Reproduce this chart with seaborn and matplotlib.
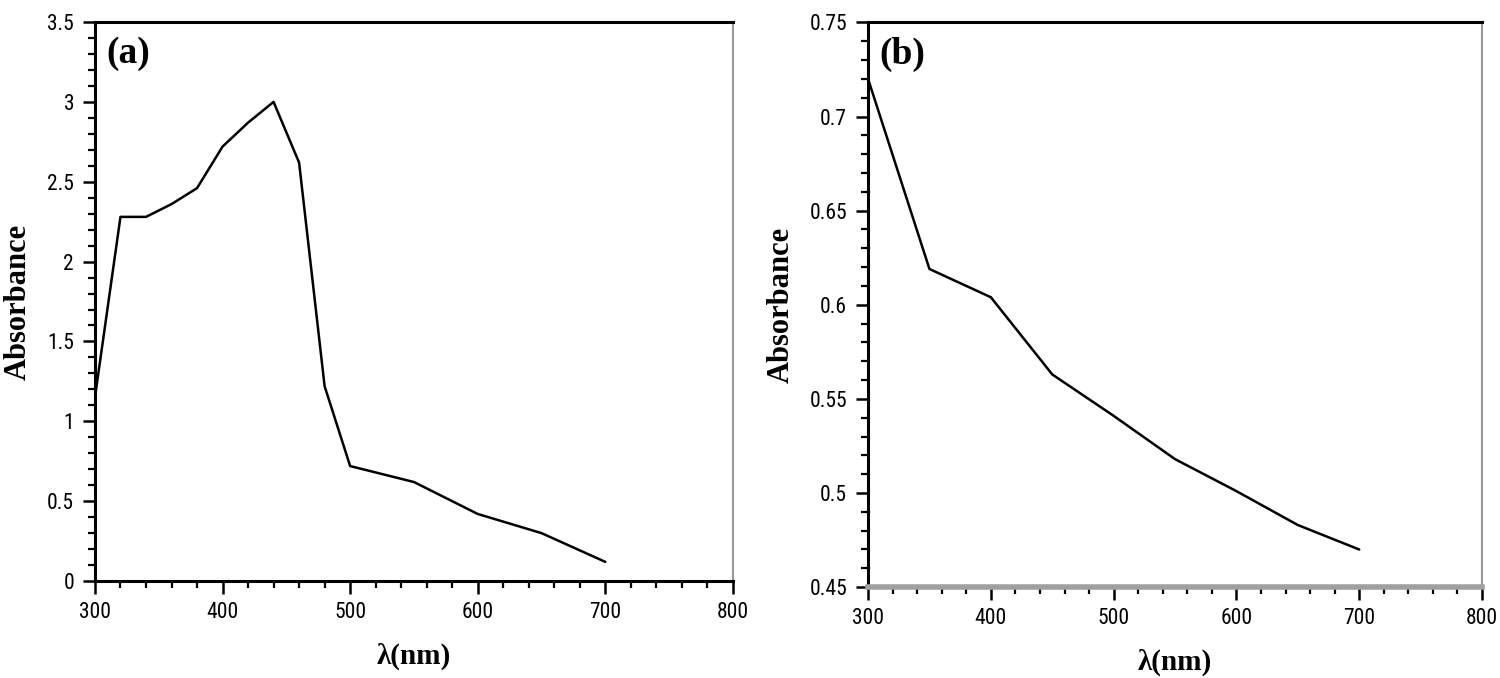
import numpy as np
import pandas as pd
import matplotlib
matplotlib.use('Agg')
import matplotlib.pyplot as plt
from matplotlib.ticker import MultipleLocator
import seaborn as sns

# Data
wl_a = [300, 320, 340, 360, 380, 400, 420, 440, 460, 480, 500, 550, 600, 650, 700]
abs_a = [1.15, 2.28, 2.28, 2.36, 2.46, 2.72, 2.87, 3.00, 2.62, 1.22, 0.72, 0.62, 0.42, 0.30, 0.12]

wl_b = [300, 350, 400, 450, 500, 550, 600, 650, 700]
abs_b = [0.72, 0.619, 0.604, 0.563, 0.541, 0.518, 0.501, 0.483, 0.470]

x_ticks = [300, 400, 500, 600, 700, 800]
y_ticks_a = [0, 0.5, 1, 1.5, 2, 2.5, 3, 3.5]
y_labels_a = ['0', '0.5', '1', '1.5', '2', '2.5', '3', '3.5']
y_ticks_b = [0.45, 0.5, 0.55, 0.6, 0.65, 0.7, 0.75]
y_labels_b = ['0.45', '0.5', '0.55', '0.6', '0.65', '0.7', '0.75']

df_a = pd.DataFrame({'wl': wl_a, 'A': abs_a})
df_b = pd.DataFrame({'wl': wl_b, 'A': abs_b})

sns.set_style('ticks')
plt.rcParams['font.family'] = ['DejaVu Sans Condensed', 'Roboto Condensed', 'DejaVu Sans']
plt.rcParams['text.color'] = 'black'
plt.rcParams['axes.labelcolor'] = 'black'
plt.rcParams['xtick.color'] = 'black'
plt.rcParams['ytick.color'] = 'black'

fig = plt.figure(figsize=(15, 6.78), dpi=100)
ax_a = fig.add_axes([0.0633, 0.143, 0.4253, 0.8245])
ax_b = fig.add_axes([0.5787, 0.134, 0.4093, 0.833])

serif = ['Liberation Serif', 'DejaVu Serif']

panels = [
    (ax_a, df_a, y_ticks_a, y_labels_a, 0.1, '(a)'),
    (ax_b, df_b, y_ticks_b, y_labels_b, 0.01, '(b)'),
]

for ax, d, yt, yl, ymin, tag in panels:
    sns.lineplot(data=d, x='wl', y='A', ax=ax, color='black', linewidth=1.8)
    ax.set_xlim(300, 800)
    ax.set_ylim(yt[0], yt[-1])
    ax.set_xticks(x_ticks)
    ax.set_xticklabels([str(t) for t in x_ticks])
    ax.set_yticks(yt)
    ax.set_yticklabels(yl)
    ax.xaxis.set_minor_locator(MultipleLocator(20))
    ax.yaxis.set_minor_locator(MultipleLocator(ymin))
    ax.tick_params(which='major', direction='out', length=9, width=1.8, labelsize=15.5, pad=6)
    ax.tick_params(which='minor', direction='out', length=5, width=1.6)
    ax.set_xlabel('λ(nm)', fontsize=21, fontweight='bold', family=serif, labelpad=14)
    ax.set_ylabel('Absorbance', fontsize=22, fontweight='bold', family=serif, labelpad=10)
    ax.text(0.018, 0.975, tag, transform=ax.transAxes, ha='left', va='top',
            fontsize=27, fontweight='bold', family=serif)
    for side in ['left', 'top']:
        ax.spines[side].set_linewidth(2.2)
        ax.spines[side].set_color('black')
    ax.spines['right'].set_linewidth(1.5)
    ax.spines['right'].set_color('#9a9a9a')
    ax.spines['right'].set_visible(True)
    ax.spines['top'].set_visible(True)

ax_a.spines['bottom'].set_linewidth(2.2)
ax_a.spines['bottom'].set_color('black')
ax_b.spines['bottom'].set_linewidth(4)
ax_b.spines['bottom'].set_color('#a0a0a0')

fig.savefig('out.png', dpi=100)
